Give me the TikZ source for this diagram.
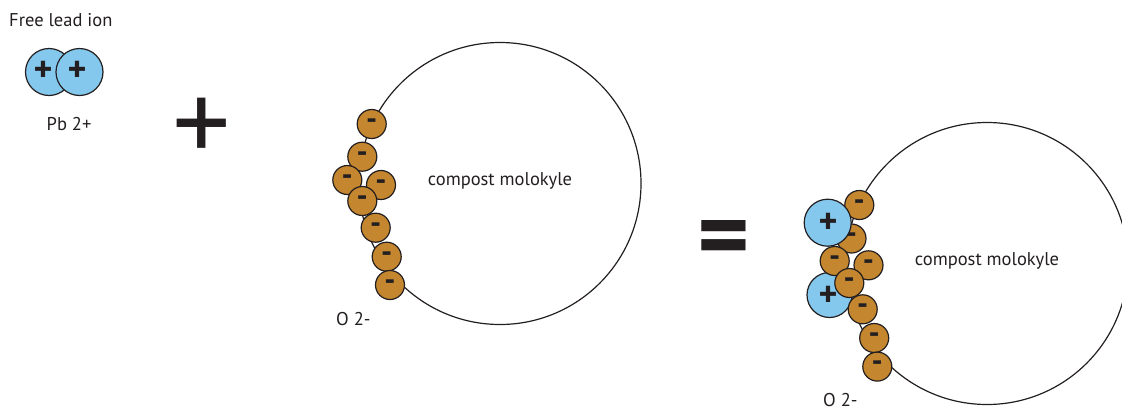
\documentclass[tikz,border=0pt]{standalone}
\usepackage{fontspec}
\setmainfont{PT Sans}
\definecolor{ioncol}{HTML}{85C8EE}
\definecolor{oxycol}{HTML}{C4862E}
\definecolor{ink}{HTML}{231F20}
\begin{document}
\begin{tikzpicture}[x=1pt,y=-1pt,
  bigmol/.style={circle,draw=ink,line width=1.2pt,minimum size=282pt,inner sep=0pt},
  oxy/.style={circle,draw=ink,fill=oxycol,line width=1.2pt,minimum size=29pt,inner sep=0pt,
    font=\bfseries\fontsize{31}{31}\selectfont,text=ink},
  pbion/.style={circle,draw=ink,fill=ioncol,line width=1.2pt,minimum size=47pt,inner sep=0pt},
  pluschar/.style={inner sep=0pt,font=\bfseries\fontsize{36}{36}\selectfont,text=ink},
  lbl/.style={inner sep=0pt,font=\fontsize{18.5}{21}\selectfont,text=ink},
  bigsign/.style={inner sep=0pt,text=ink}
]
\useasboundingbox (0,0) rectangle (1122,410);

% free lead ion
\node[lbl,anchor=base west] (freelbl) at (9,26.5) {Free lead ion};
\node[pbion] (p1) at (49,72) {};
\node[pbion] (p2) at (79.5,72) {};
\node[pluschar] (p1s) at (43,71) {+};
\node[pluschar] (p2s) at (77,71) {+};
\node[lbl,anchor=base west] (pblbl) at (46.5,130) {Pb 2+};

% big plus
\node[bigsign,font=\fontsize{116}{116}\selectfont] (plussign) at (202,130) {+};

% left molecule
\node[bigmol] (L) at (500,183.5) {};
\node[lbl] (Ltext) at (500,181) {compost molokyle};
\foreach \n/\x/\y in {l1/371.7/124, l2/362.3/156.7, l3/347.3/180, l4/381/185,
                      l5/362.3/201, l6/375.7/227.7, l7/386.7/256.7, l8/390/285}
  \node[oxy] (\n) at (\x,\y) {-};
\node[lbl,anchor=base west] (Llbl) at (336,325) {O 2-};

% equals
\node[bigsign,font=\bfseries\fontsize{100}{100}\selectfont] (eqsign) at (724,245) {=};

% right molecule
\node[bigmol] (R) at (987,263.5) {};
\node[lbl] (Rtext) at (987,261) {compost molokyle};
\foreach \n/\x/\y in {r1/859.3/205, r2/851.5/238.5}
  \node[oxy] (\n) at (\x,\y) {-};
\node[pbion] (b1) at (827.7,222.7) {};
\node[pbion,minimum size=45pt] (b2) at (829.5,295) {};
\foreach \n/\x/\y in {r3/834.7/261, r4/868.5/265.3, r5/849.3/283, r6/862.7/309.3,
                      r7/874.2/338, r8/877.3/366.6}
  \node[oxy] (\n) at (\x,\y) {-};
\node[pluschar] (b1s) at (828,223) {+};
\node[pluschar] (b2s) at (828,296) {+};
\node[lbl,anchor=base west] (Rlbl) at (823,406) {O 2-};
\end{tikzpicture}
\end{document}
